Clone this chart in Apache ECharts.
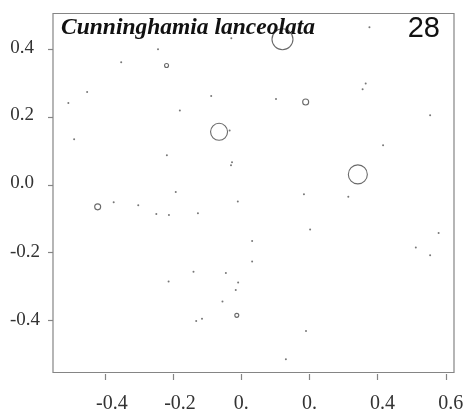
<!DOCTYPE html>
<html>
<head>
<meta charset="utf-8">
<script src="https://cdn.jsdelivr.net/npm/echarts@6/dist/echarts.min.js"></script>
<style>
  html, body { margin: 0; padding: 0; background: #fff; }
  #chart { width: 469px; height: 414px; }
</style>
</head>
<body>
<div id="chart"></div>
<script>
// ---- data ----
var titleText = "Cunninghamia lanceolata";
var panelNumber = "28";
var xTicks = [-0.4, -0.2, 0, 0.2, 0.4, 0.6];
var xTickLabels = ["-0.4", "-0.2", "0.", "0.", "0.4", "0.6"];
var yTicks = [-0.4, -0.2, 0, 0.2, 0.4];
var yTickLabels = ["-0.4", "-0.2", "0.0", "0.2", "0.4"];

// tiny points [x, y]
var dots = [
  [-0.029, 0.434], [-0.244, 0.401], [-0.352, 0.363], [-0.452, 0.275],
  [-0.507, 0.242], [-0.088, 0.263], [-0.180, 0.220], [-0.034, 0.161],
  [-0.490, 0.135], [-0.218, 0.088], [-0.027, 0.067], [-0.030, 0.058],
  [-0.192, -0.021], [0.376, 0.466], [0.365, 0.300], [0.356, 0.283],
  [0.102, 0.254], [0.554, 0.206], [0.416, 0.117], [-0.374, -0.051],
  [-0.302, -0.060], [-0.010, -0.049], [-0.249, -0.086], [-0.212, -0.089],
  [-0.127, -0.084], [0.032, -0.166], [0.032, -0.227], [-0.140, -0.257],
  [-0.045, -0.261], [-0.213, -0.286], [-0.009, -0.289], [-0.016, -0.311],
  [-0.055, -0.345], [-0.132, -0.403], [-0.115, -0.396], [0.184, -0.028],
  [0.314, -0.035], [0.202, -0.132], [0.579, -0.142], [0.512, -0.185],
  [0.554, -0.208], [0.190, -0.432], [0.131, -0.516]
];

// bubbles [x, y, weight]
var bubbles = [
  [-0.219, 0.353, 2.0],
  [-0.065, 0.157, 8.5],
  [0.121, 0.431, 10.5],
  [0.189, 0.245, 3.0],
  [0.342, 0.031, 9.5],
  [-0.421, -0.065, 3.0],
  [-0.013, -0.386, 2.0]
];

// ---- chart ----
var chart = echarts.init(document.getElementById('chart'), null, { renderer: 'canvas' });

var labelFont = 'Liberation Serif, Times New Roman, serif';

function findLabel(ticks, labels, v) {
  for (var i = 0; i < ticks.length; i++) if (Math.abs(ticks[i] - v) < 1e-6) return labels[i];
  return '';
}

chart.setOption({
  backgroundColor: '#ffffff',
  animation: false,
  title: [
    {
      text: titleText,
      left: 56, top: 11,
      textStyle: { fontFamily: labelFont, fontStyle: 'italic', fontWeight: 'bold', fontSize: 23.5, color: '#111' }
    },
    {
      text: panelNumber,
      right: 24, top: 9,
      textStyle: { fontFamily: 'Liberation Sans, Arial, sans-serif', fontWeight: 'normal', fontSize: 29, color: '#111' }
    }
  ],
  grid: {
    left: 53, right: 15, top: 13.5, bottom: 40,
    show: true, borderColor: '#858585', borderWidth: 1.2, backgroundColor: 'transparent'
  },
  xAxis: {
    type: 'value',
    min: -0.552, max: 0.624,
    offset: 1.5,
    splitLine: { show: false },
    axisLine: { show: false, onZero: false },
    axisTick: { show: true, length: 6, customValues: xTicks, lineStyle: { color: '#858585', width: 1.2 } },
    axisLabel: {
      customValues: xTicks,
      margin: 20,
      fontFamily: labelFont, fontSize: 20, color: '#333',
      formatter: function (v) {
        var s = findLabel(xTicks, xTickLabels, v);
        if (s.charAt(0) === '-') return '{n|' + s + '}';
        if (s === '0.') return '{z|' + s + '}';
        return '{p|' + s + '}';
      },
      rich: {
        n: { fontFamily: labelFont, fontSize: 20, color: '#333', padding: [0, 0, 0, 14] },
        z: { fontFamily: labelFont, fontSize: 20, color: '#333' },
        p: { fontFamily: labelFont, fontSize: 20, color: '#333', padding: [0, 0, 0, 10] }
      }
    }
  },
  yAxis: {
    type: 'value',
    min: -0.555, max: 0.507,
    splitLine: { show: false },
    axisLine: { show: false, onZero: false },
    axisTick: { show: true, length: 5, customValues: yTicks, lineStyle: { color: '#858585', width: 1.2 } },
    axisLabel: {
      customValues: yTicks,
      margin: 13,
      fontFamily: labelFont, fontSize: 19, color: '#333',
      formatter: function (v) {
        var s = findLabel(yTicks, yTickLabels, v);
        if (s.charAt(0) === '-') return '{n|' + s + '}';
        return '{p|' + s + '}';
      },
      rich: {
        n: { fontFamily: labelFont, fontSize: 19, color: '#333' },
        p: { fontFamily: labelFont, fontSize: 19, color: '#333', padding: [0, 6, 4, 0] }
      }
    }
  },
  series: [
    {
      type: 'scatter',
      data: dots,
      symbol: 'circle',
      symbolSize: 2,
      itemStyle: { color: '#555' },
      silent: true
    },
    {
      type: 'scatter',
      data: bubbles,
      symbol: 'circle',
      symbolSize: function (v) { return v[2] * 2; },
      itemStyle: { color: 'transparent', borderColor: '#444', borderWidth: 1.1 },
      silent: true
    }
  ]
});
</script>
</body>
</html>
